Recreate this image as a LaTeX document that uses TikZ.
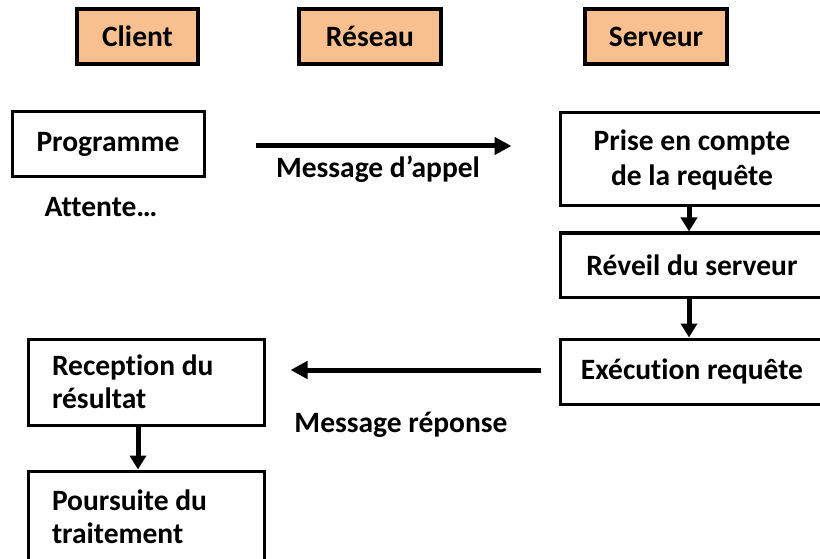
\documentclass[tikz,border=0pt]{standalone}
\usepackage{fontspec}
\setmainfont{Carlito}[Ligatures=NoCommon]
\usetikzlibrary{arrows.meta,calc}
\definecolor{peach}{RGB}{249,192,143}
\tikzset{
  txt/.style={font=\fontsize{29.5}{35}\selectfont\bfseries},
  hdr/.style={txt, draw=black, line width=3.2pt, fill=peach, minimum height=55pt, inner sep=0pt},
  boxc/.style={txt, draw=black, line width=3pt, fill=white, inner sep=0pt, align=center},
  boxl/.style={font=\fontsize{29.5}{33.5}\selectfont\bfseries, draw=black, line width=3pt, fill=white, inner ysep=0pt, inner xsep=24pt, align=flush left, text width=188pt},
  lbl/.style={txt, inner sep=0pt, anchor=base},
  harrow/.style={line width=5pt, -{Triangle[length=17pt,width=17pt]}},
  varrow/.style={line width=5pt, -{Triangle[length=14pt,width=16pt]}}
}
\begin{document}
\begin{tikzpicture}[x=1pt,y=-1pt]
\useasboundingbox (0,0) rectangle (820,559);
\clip (0,0) rectangle (820,559);
% headers
\node[hdr, minimum width=121pt] (client) at (137.5,36.5) {Client};
\node[hdr, minimum width=142pt] (reseau) at (370,36.5) {Réseau};
\node[hdr, minimum width=142pt] (serveur) at (656,36.5) {Serveur};
% client side
\node[boxc, minimum width=192pt, minimum height=65pt] (prog) at (108,144.5) {Programme};
\node[lbl] (attente) at (101,217) {Attente…};
\node[boxl, minimum width=236pt, minimum height=86pt] (recep) at (146,382) {Reception du\\résultat};
\node[boxl, minimum width=236pt, minimum height=92pt] (pours) at (146,517) {Poursuite du\\traitement};
% server side
\node[boxc, minimum width=264pt, minimum height=93pt] (prise) at (692,159.5) {Prise en compte\\de la requête};
\node[boxc, minimum width=264pt, minimum height=64pt] (reveil) at (692,265) {Réveil du serveur};
\node[boxc, minimum width=264pt, minimum height=65pt] (exec) at (692,371.5) {Exécution requête};
% labels
\node[lbl] (mappel) at (378,178) {Message d’appel};
\node[lbl] (mrep) at (401,432) {Message réponse};
% connectors
\draw[harrow, shorten <=50pt, shorten >=47pt] ([yshift=-1.5pt]prog.east) -- ([yshift=-1.5pt]prog.east -| prise.west);
\draw[harrow, shorten <=18pt, shorten >=25pt] ([yshift=1.5pt]exec.west) -- ([yshift=1.5pt]exec.west -| recep.east);
\draw[varrow] ([xshift=-3pt]prise.south) -- ([xshift=-3pt]reveil.north);
\draw[varrow] ([xshift=-3pt]reveil.south) -- ([xshift=-3pt]exec.north);
\draw[varrow] ([xshift=-8pt]recep.south) -- ([xshift=-8pt]pours.north);
\end{tikzpicture}
\end{document}
